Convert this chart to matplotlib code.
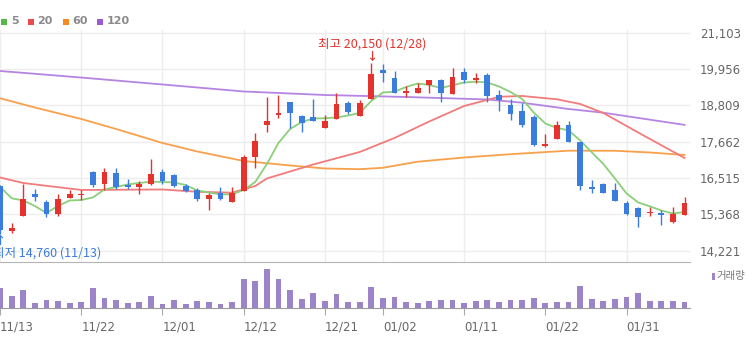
import matplotlib
matplotlib.use("Agg")
import matplotlib.pyplot as plt
from matplotlib.patches import Rectangle

# 일봉 (2023-11-13 ~ 2024-02-07)
dates = [
    "11/13", "11/14", "11/15", "11/16", "11/17", "11/20", "11/21", "11/22", "11/23", "11/24",
    "11/27", "11/28", "11/29", "11/30", "12/01", "12/04", "12/05", "12/06", "12/07", "12/08",
    "12/11", "12/12", "12/13", "12/14", "12/15", "12/18", "12/19", "12/20", "12/21", "12/22",
    "12/26", "12/27", "12/28", "01/02", "01/03", "01/04", "01/05", "01/08", "01/09", "01/10",
    "01/11", "01/12", "01/15", "01/16", "01/17", "01/18", "01/19", "01/22", "01/23", "01/24",
    "01/25", "01/26", "01/29", "01/30", "01/31", "02/01", "02/02", "02/05", "02/06", "02/07",
]
opens = [
    16263, 14833, 15316, 16011, 15768, 15379, 15894, 15979, 16715, 16326,
    16664, 16295, 16241, 16326, 16715, 16611, 16263, 16137, 15843, 16033,
    15768, 16115, 17188, 18199, 18514, 18906, 18483, 18451, 18085, 18369,
    18893, 18473, 19000, 19925, 19682, 19209, 19209, 19452, 19610, 19168,
    19853, 19610, 19768, 19136, 18820, 18641, 18432, 17526, 17738, 18189,
    17643, 16241, 16317, 16137, 15717, 15578, 15402, 15402, 15136, 15348,
]
highs = [
    16300, 15095, 16326, 16178, 15821, 16011, 16137, 16137, 16730, 16822,
    16822, 16475, 16431, 17106, 16791, 16650, 16326, 16191, 16033, 16241,
    16241, 17242, 17946, 19064, 19136, 18920, 18500, 19000, 18505, 19190,
    18947, 18978, 20150, 20100, 19903, 19430, 19525, 19610, 19632, 19979,
    19979, 19840, 19821, 19294, 19000, 18893, 18505, 17905, 18325, 18325,
    17662, 16453, 16367, 16349, 15799, 15610, 15610, 15506, 15610, 15906,
]
lows = [
    14760, 14789, 15300, 15799, 15275, 15326, 15875, 15821, 16241, 16137,
    16159, 16159, 16011, 16295, 16326, 16230, 16083, 15799, 15506, 15821,
    15768, 16100, 16822, 17978, 18401, 18085, 17978, 18315, 18085, 18369,
    18536, 18473, 19000, 19556, 19190, 19083, 19209, 19209, 18925, 19168,
    19506, 19506, 18925, 18641, 18347, 18135, 17526, 17504, 17738, 17643,
    16137, 16052, 16033, 15799, 15348, 14960, 15316, 15032, 15105, 15348,
]
closes = [
    14874, 14947, 15853, 15906, 15379, 15853, 16001, 16011, 16295, 16715,
    16222, 16222, 16326, 16633, 16431, 16263, 16115, 15843, 15979, 15843,
    16052, 17169, 17693, 18325, 18577, 18558, 18262, 18315, 18325, 18852,
    18609, 18874, 19790, 19840, 19209, 19263, 19367, 19610, 19190, 19714,
    19610, 19663, 19105, 18978, 18536, 18189, 17558, 17580, 18189, 17643,
    16273, 16178, 16033, 15799, 15379, 15294, 15433, 15348, 15370, 15717,
]
volumes = [
    1550, 950, 1375, 375, 625, 550, 375, 450, 1550, 800,
    625, 375, 450, 950, 300, 625, 300, 550, 450, 300,
    450, 2200, 2050, 2950, 2250, 1375, 700, 1125, 550, 1050,
    450, 450, 1625, 800, 875, 450, 375, 550, 625, 625,
    375, 550, 625, 450, 625, 625, 800, 375, 450, 450,
    1700, 700, 550, 700, 875, 1125, 550, 550, 550, 450,
]

# 이동평균선
ma5 = [
    16241, 15875, 15806, 15632, 15411, 15632, 15806, 15821, 15900, 16153,
    16232, 16311, 16358, 16399, 16390, 16374, 16295, 16121, 16058, 15995,
    16001, 16137, 16390, 16958, 17621, 18063, 18284, 18394, 18401, 18426,
    18489, 18568, 18947, 19215, 19240, 19389, 19499, 19452, 19357, 19442,
    19531, 19556, 19531, 19405, 19231, 19010, 18584, 18236, 18094, 18022,
    17700, 17327, 16958, 16500, 16027, 15742, 15622, 15490, 15395, 15443,
]
ma20_idx = [0, 2, 7, 14, 17, 20, 22, 23, 25, 27, 31, 34, 37, 40, 43, 45, 48, 50, 52, 55, 59]
ma20 = [16532, 16358, 16137, 16153, 16080, 16052, 16263, 16500, 16721, 16942, 17337,
        17779, 18300, 18789, 19079, 19105, 19000, 18852, 18568, 17952, 17147]
ma60_idx = [0, 3, 7, 10, 14, 17, 21, 25, 28, 31, 33, 36, 40, 44, 49, 53, 56, 59]
ma60 = [19032, 18742, 18379, 18063, 17621, 17352, 17053, 16911, 16816, 16794, 16838,
        17030, 17163, 17267, 17378, 17375, 17321, 17242]
ma120_idx = [0, 7, 14, 21, 28, 35, 42, 45, 49, 52, 59]
ma120 = [19894, 19687, 19468, 19247, 19136, 19073, 18994, 18893, 18694, 18577, 18192]

price_ticks = [14221, 15368, 16515, 17662, 18809, 19956, 21103]
date_ticks = ["11/13", "11/22", "12/01", "12/12", "12/21", "01/02", "01/11", "01/22", "01/31"]

UP = "#e5322c"
DOWN = "#3a7ddf"
GRID = "#ededed"
KR = ["Noto Sans CJK KR", "DejaVu Sans"]

fig = plt.figure(figsize=(7.52, 3.37), dpi=100)
ax = fig.add_axes([0, 0.2226, 0.9176, 0.6884])
axv = fig.add_axes([0, 0.0846, 0.9176, 0.138], sharex=ax)

x = list(range(len(dates)))
ax.set_xlim(0.086, 59.47)
ax.set_ylim(13864, 21188)

# ---------- 그리드 ---------- #
for p in price_ticks:
    ax.axhline(p, color=GRID, lw=1.0, zorder=0)
tick_pos = [dates.index(d) for d in date_ticks]
for t in tick_pos:
    ax.axvline(t, color=GRID, lw=1.0, zorder=0)

# ---------- 이동평균선 ---------- #
ax.plot(ma120_idx, ma120, color="#b684e2", lw=1.3, zorder=2)
ax.plot(ma60_idx, ma60, color="#f8a04c", lw=1.3, zorder=2)
ax.plot(ma20_idx, ma20, color="#f27b7b", lw=1.3, zorder=2)
ax.plot(x, ma5, color="#8ccf7b", lw=1.3, zorder=2)

# ---------- 캔들 ---------- #
for i in x:
    o, h, l, c = opens[i], highs[i], lows[i], closes[i]
    col = UP if c >= o else DOWN
    ax.vlines(i, l, h, color=col, lw=1.0, zorder=3)
    body = max(abs(c - o), 28)
    ax.bar(i, body, bottom=min(o, c), width=0.5, color=col, lw=0, zorder=4)

# 최고 / 최저 표시
imax = highs.index(max(highs))
imin = lows.index(min(lows))
ax.annotate("↓", xy=(imax, highs[imax]), xytext=(0, 7), textcoords="offset pixels",
            ha="center", va="center", color=UP, fontsize=8, family=KR, fontweight="bold")
ax.annotate(f"최고 {highs[imax]:,} ({dates[imax]})", xy=(imax, highs[imax]),
            xytext=(1, 19), textcoords="offset pixels", ha="center", va="center",
            color=UP, fontsize=9, family=KR)
ax.annotate("↑", xy=(imin, lows[imin]), xytext=(0, -7), textcoords="offset pixels",
            ha="center", va="center", color=DOWN, fontsize=8, family=KR, fontweight="bold",
            annotation_clip=False)
ax.annotate(f"최저 {lows[imin]:,} ({dates[imin]})", xy=(imin, lows[imin]),
            xytext=(-7, -19), textcoords="offset pixels", ha="left", va="center",
            color=DOWN, fontsize=9, family=KR, annotation_clip=False)

ax.yaxis.tick_right()
ax.set_yticks(price_ticks)
ax.set_yticklabels([f"{p:,}" for p in price_ticks])
ax.tick_params(axis="y", length=0, pad=7, labelsize=8.5, labelcolor="#666666")
ax.tick_params(axis="x", length=0, labelbottom=False)
for s in ax.spines.values():
    s.set_visible(False)

# ---------- 거래량 ---------- #
axv.bar(x, volumes, width=0.5, color="#9b85c8", lw=0)
axv.set_ylim(0, 3490)
axv.set_yticks([])
axv.set_xticks(tick_pos)
axv.set_xticklabels(date_ticks, ha="left")
axv.tick_params(axis="x", length=5, color="#aaaaaa", labelsize=8.5,
                labelcolor="#666666", pad=4)
for side in ["left", "right"]:
    axv.spines[side].set_visible(False)
axv.spines["top"].set_color("#b5b5b5")
axv.spines["bottom"].set_color("#9a9a9a")

fig.patches.append(Rectangle((711.5 / 752, 1 - 280 / 337), 3 / 752, 7 / 337,
                             transform=fig.transFigure, color="#9b85c8", lw=0))
fig.text(716 / 752, 1 - 276.5 / 337, "거래량", family=KR, fontsize=7.5,
         color="#777777", va="center", ha="left")

# ---------- 범례 ---------- #
legend_items = [("5", "#56b946", 1.5), ("20", "#ea4a4d", 28), ("60", "#f68b22", 63),
                ("120", "#9d5ad4", 97)]
for label, col, lx in legend_items:
    fig.patches.append(Rectangle((lx / 752, 1 - 24.5 / 337), 6 / 752, 6 / 337,
                                 transform=fig.transFigure, color=col, lw=0))
    fig.text((lx + 9.5) / 752, 1 - 21.5 / 337, label, fontsize=8, fontweight="bold",
             color="#8a8a8a", va="center", ha="left")

fig.savefig("out.png", dpi=100)
